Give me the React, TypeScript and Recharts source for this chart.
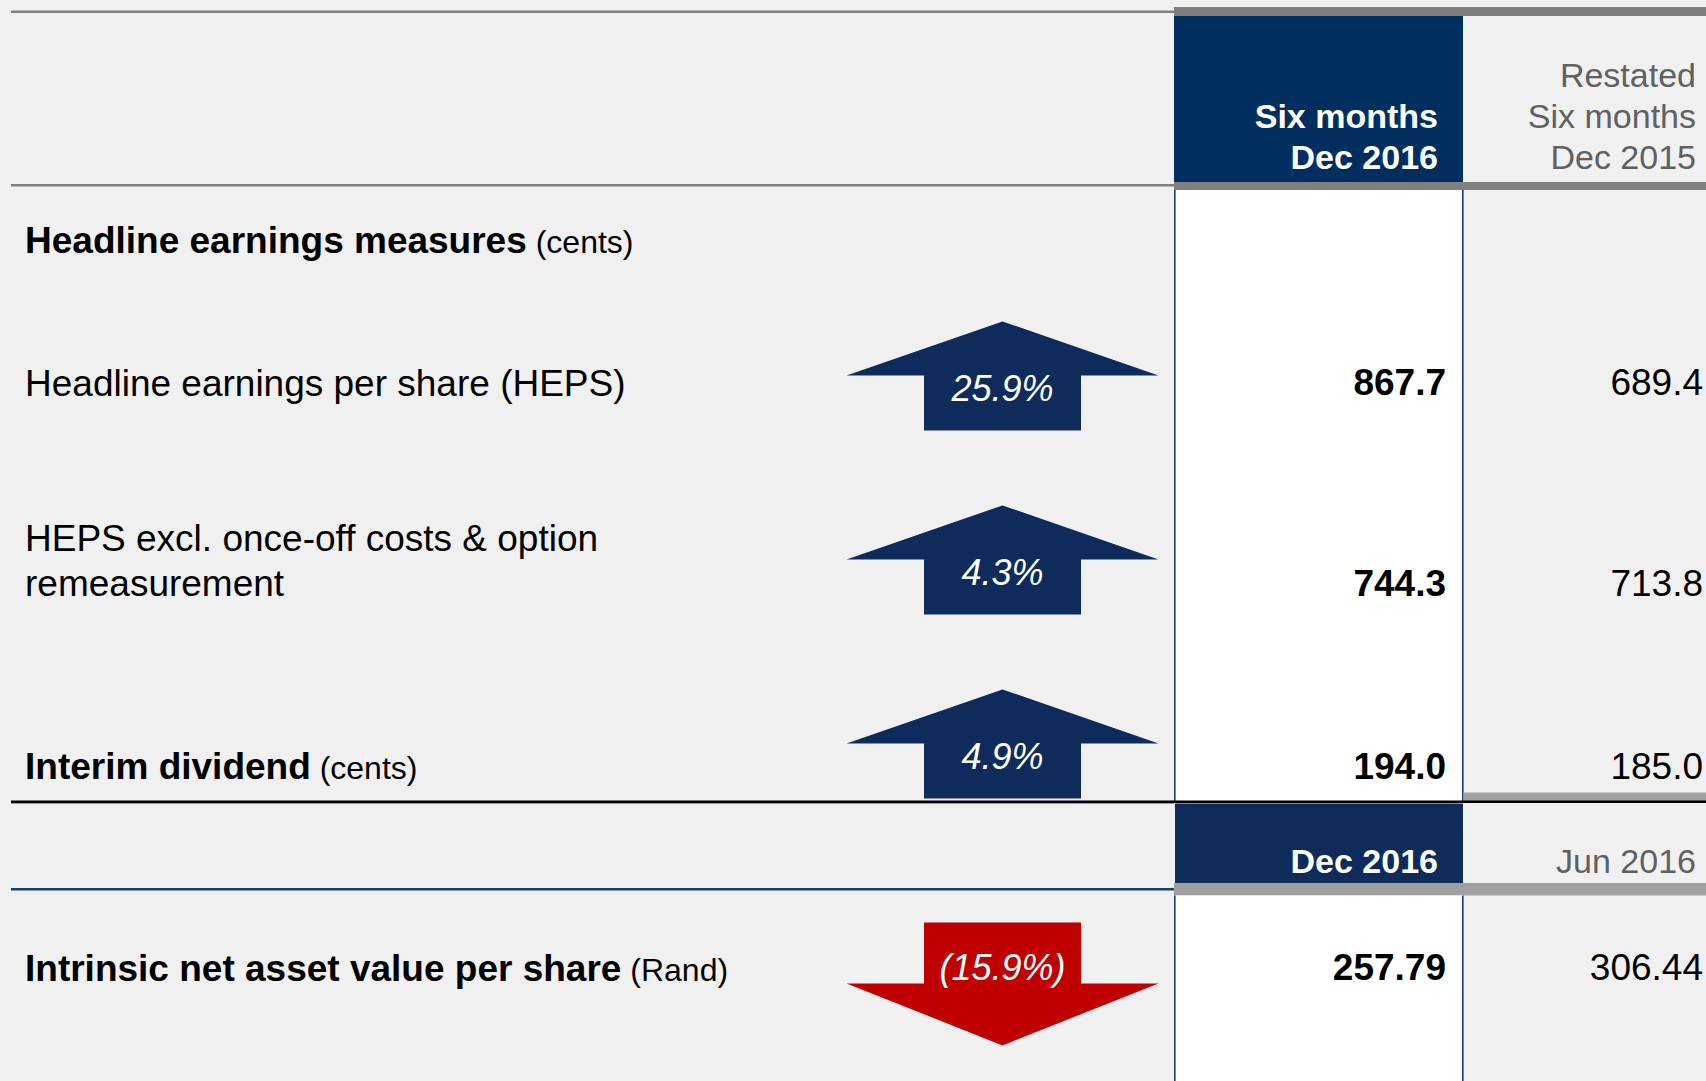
import React from 'react';
import { BarChart, Bar, XAxis, YAxis } from 'recharts';

// ---------- data ----------
const headlineMetrics = [
  'Headline earnings per share (HEPS)',
  'HEPS excl. once-off costs & option remeasurement',
  'Interim dividend',
];
const headlineUnits = ['', '', '(cents)'];
const headlineCurrent = [867.7, 744.3, 194.0];
const headlinePrior = [689.4, 713.8, 185.0];
const headlineChange = [25.9, 4.3, 4.9];

const navMetrics = ['Intrinsic net asset value per share'];
const navUnits = ['(Rand)'];
const navCurrent = [257.79];
const navPrior = [306.44];
const navChange = [-15.9];

const sectionTitle = 'Headline earnings measures';
const sectionUnit = '(cents)';
const headlineCurrentPeriod = ['Six months', 'Dec 2016'];
const headlinePriorPeriod = ['Restated', 'Six months', 'Dec 2015'];
const navCurrentPeriod = ['Dec 2016'];
const navPriorPeriod = ['Jun 2016'];

// ---------- styling / layout ----------
const FONT = "'Liberation Sans', Arial, Helvetica, sans-serif";
const W = 1706;
const H = 1081;
const NAVY_BOX = '#002f5f';
const NAVY_BOX2 = '#0e2b5a';
const NAVY_ARROW = '#0e2b5b';
const NAVY_LINE = '#1f3d6e';
const RED = '#c00000';
const GRAY_DARK = '#808080';
const GRAY_LIGHT = '#a0a0a0';
const GRAY_TEXT = '#606060';
const LABEL_X = 25;
const ARROW_CX = 1002.5;
const CUR_RIGHT = 1446;
const PRIOR_RIGHT = 1703;
const LINE_H = 45;
const AXIS_W = 760;
const WRAP_CHARS = 40;

const headlineData = headlineMetrics.map((m, i) => ({
  idx: i,
  metric: m,
  unit: headlineUnits[i],
  current: headlineCurrent[i],
  prior: headlinePrior[i],
  change: headlineChange[i],
}));
const navData = navMetrics.map((m, i) => ({
  idx: i,
  metric: m,
  unit: navUnits[i],
  current: navCurrent[i],
  prior: navPrior[i],
  change: navChange[i],
}));

function wrapLabel(s: string, maxChars: number): string[] {
  const words = s.split(' ');
  const lines: string[] = [];
  let cur = '';
  for (const w of words) {
    const next = cur ? cur + ' ' + w : w;
    if (next.length > maxChars && cur) {
      lines.push(cur);
      cur = w;
    } else {
      cur = next;
    }
  }
  if (cur) lines.push(cur);
  return lines;
}

const fmtPct = (v: number) => (v >= 0 ? `${v.toFixed(1)}%` : `(${Math.abs(v).toFixed(1)}%)`);

function RowTick(props: any) {
  const { y, payload, metrics, units, textDy } = props;
  const value = payload && payload.value != null ? String(payload.value) : '';
  const i = metrics.indexOf(value);
  if (i < 0 || y == null) return <g />;
  const lines = wrapLabel(value, WRAP_CHARS);
  const unit = units[i];
  const bold = unit !== '';
  const base = Number(y) + textDy[i];
  return (
    <g>
      {lines.map((ln: string, k: number) => {
        const ly = base - (lines.length - 1 - k) * LINE_H;
        const last = k === lines.length - 1;
        return (
          <text
            key={k}
            x={LABEL_X}
            y={ly}
            fontFamily={FONT}
            fontSize={37}
            fill="#000"
            textAnchor="start"
            style={{ whiteSpace: 'pre' }}
          >
            <tspan fontWeight={bold ? 700 : 400}>{ln}</tspan>
            {last && unit ? (
              <tspan fontWeight={400} fontSize={32}>{' ' + unit}</tspan>
            ) : null}
          </text>
        );
      })}
    </g>
  );
}

const makeArrowShape = (decimals: number, textDy: number[]) => (props: any) => {
  const { y, height, payload } = props;
  if (y == null || height == null || !payload) return <g />;
  const cy = y + height / 2;
  const i = payload.idx;
  const up = payload.change >= 0;
  const hw = 156;
  const sw = 78.5;
  let pts: string;
  let labelY: number;
  if (up) {
    const tip = cy - 54.5;
    const wing = cy - 0.5;
    const bot = cy + 54.5;
    pts = [
      [ARROW_CX, tip],
      [ARROW_CX + hw, wing],
      [ARROW_CX + sw, wing],
      [ARROW_CX + sw, bot],
      [ARROW_CX - sw, bot],
      [ARROW_CX - sw, wing],
      [ARROW_CX - hw, wing],
    ]
      .map((p) => p.join(','))
      .join(' ');
    labelY = cy + 25;
  } else {
    const topY = cy - 61.5;
    const wing = cy - 0.5;
    const tip = cy + 61.5;
    pts = [
      [ARROW_CX - sw, topY],
      [ARROW_CX + sw, topY],
      [ARROW_CX + sw, wing],
      [ARROW_CX + hw, wing],
      [ARROW_CX, tip],
      [ARROW_CX - hw, wing],
      [ARROW_CX - sw, wing],
    ]
      .map((p) => p.join(','))
      .join(' ');
    labelY = cy - 3.5;
  }
  const vy = cy + textDy[i];
  return (
    <g>
      <polygon points={pts} fill={up ? NAVY_ARROW : RED} />
      <text
        x={ARROW_CX}
        y={labelY}
        textAnchor="middle"
        fontFamily={FONT}
        fontSize={36}
        fontStyle="italic"
        fill="#ffffff"
      >
        {fmtPct(payload.change)}
      </text>
      <text x={CUR_RIGHT} y={vy} textAnchor="end" fontFamily={FONT} fontSize={37} fontWeight={700} fill="#000">
        {payload.current.toFixed(decimals)}
      </text>
      <text x={PRIOR_RIGHT} y={vy} textAnchor="end" fontFamily={FONT} fontSize={37} fill="#000">
        {payload.prior.toFixed(decimals)}
      </text>
    </g>
  );
};

function MetricRows(props: {
  data: any[];
  metrics: string[];
  units: string[];
  top: number;
  height: number;
  decimals: number;
  textDy: number[];
}) {
  const { data, metrics, units, top, height, decimals, textDy } = props;
  return (
    <div style={{ position: 'absolute', left: 0, top, width: W, height }}>
      <BarChart
        width={W}
        height={height}
        data={data}
        layout="vertical"
        margin={{ top: 0, right: 0, bottom: 0, left: 0 }}
      >
        <XAxis type="number" dataKey="change" domain={[-100, 100]} hide />
        <YAxis
          type="category"
          dataKey="metric"
          width={AXIS_W}
          axisLine={false}
          tickLine={false}
          interval={0}
          tick={(tp: any) => <RowTick {...tp} metrics={metrics} units={units} textDy={textDy} />}
        />
        <Bar dataKey="change" isAnimationActive={false} shape={makeArrowShape(decimals, textDy)} />
      </BarChart>
    </div>
  );
}

function Background() {
  const t = (key: string, x: number, y: number, s: string, fill: string, weight: number) => (
    <text key={key} x={x} y={y} textAnchor="end" fontFamily={FONT} fontSize={34} fontWeight={weight} fill={fill}>
      {s}
    </text>
  );
  return (
    <svg width={W} height={H} style={{ position: 'absolute', left: 0, top: 0 }}>
      <rect x={0} y={0} width={W} height={H} fill="#f0f0f0" />
      {/* top rules */}
      <rect x={11} y={10.5} width={1163} height={2.5} fill={GRAY_DARK} />
      <rect x={1174} y={7} width={W - 1174} height={9} fill="#7f7f7f" />
      {/* header box 1 */}
      <rect x={1174} y={16} width={289} height={166} fill={NAVY_BOX} />
      {headlineCurrentPeriod.map((s, k) =>
        t('c' + k, 1438, 169 - (headlineCurrentPeriod.length - 1 - k) * 41, s, '#ffffff', 700)
      )}
      {headlinePriorPeriod.map((s, k) =>
        t('p' + k, 1696, 169 - (headlinePriorPeriod.length - 1 - k) * 41, s, GRAY_TEXT, 400)
      )}
      <rect x={11} y={184} width={1163} height={2.5} fill={GRAY_DARK} />
      <rect x={1174} y={182} width={W - 1174} height={8} fill={GRAY_DARK} />
      {/* white column 1 */}
      <rect x={1175} y={190} width={288} height={611} fill="#ffffff" />
      <rect x={1174} y={190} width={1.6} height={611} fill={NAVY_LINE} />
      <rect x={1462} y={190} width={1.6} height={611} fill={NAVY_LINE} />
      <rect x={1463.5} y={792.5} width={W - 1463.5} height={8.5} fill={GRAY_LIGHT} />
      {/* black rule */}
      <rect x={11} y={800.5} width={W - 11} height={2.5} fill="#000" />
      <rect x={11} y={803} width={1163} height={1} fill="#9a9a9a" />
      {/* header box 2 */}
      <rect x={1175} y={803.5} width={288} height={79.5} fill={NAVY_BOX2} />
      {navCurrentPeriod.map((s, k) => t('nc' + k, 1438, 873, s, '#ffffff', 700))}
      {navPriorPeriod.map((s, k) => t('np' + k, 1696, 873, s, GRAY_TEXT, 400))}
      <rect x={11} y={888} width={1163} height={2.5} fill={NAVY_LINE} />
      <rect x={1174} y={883} width={W - 1174} height={12.5} fill={GRAY_LIGHT} />
      {/* white column 2 */}
      <rect x={1175} y={895.5} width={288} height={H - 895.5} fill="#ffffff" />
      <rect x={1174} y={895.5} width={1.6} height={H - 895.5} fill={NAVY_LINE} />
      <rect x={1462} y={895.5} width={1.6} height={H - 895.5} fill={NAVY_LINE} />
      {/* section title */}
      <text x={LABEL_X} y={253} fontFamily={FONT} fontSize={37} fill="#000" style={{ whiteSpace: 'pre' }}>
        <tspan fontWeight={700}>{sectionTitle}</tspan>
        <tspan fontSize={32} fontWeight={400}>{' ' + sectionUnit}</tspan>
      </text>
    </svg>
  );
}

export default function App() {
  return (
    <div
      style={{
        position: 'fixed',
        left: 0,
        top: 0,
        width: W,
        height: H,
        background: '#f0f0f0',
        overflow: 'hidden',
        fontFamily: FONT,
      }}
    >
      <Background />
      <MetricRows
        data={headlineData}
        metrics={headlineMetrics}
        units={headlineUnits}
        top={283.5}
        height={552}
        decimals={1}
        textDy={[19.5, 36, 35]}
      />
      <MetricRows
        data={navData}
        metrics={navMetrics}
        units={navUnits}
        top={891.5}
        height={184}
        decimals={2}
        textDy={[-3.5]}
      />
    </div>
  );
}
